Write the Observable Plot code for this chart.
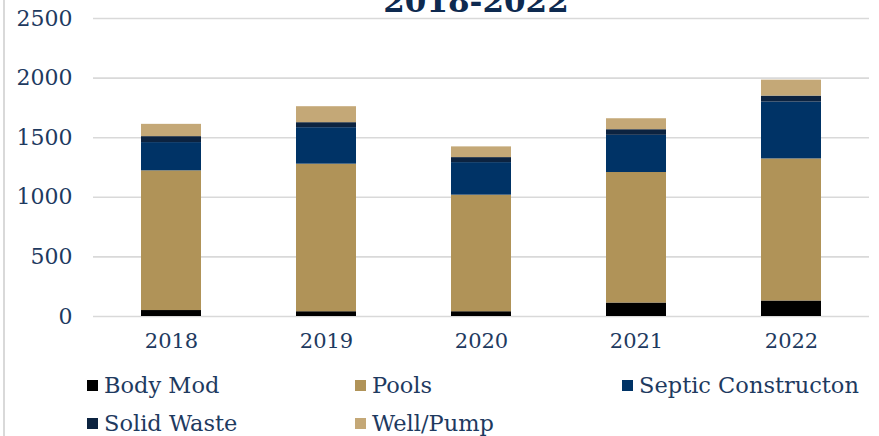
<!DOCTYPE html>
<html>
<head>
<meta charset="utf-8">
<script src="https://cdn.jsdelivr.net/npm/d3@7"></script>
<script src="https://cdn.jsdelivr.net/npm/@observablehq/plot@0.6"></script>
<style>
  html, body { margin: 0; padding: 0; background: #fff; }
  #wrap { position: relative; width: 879px; height: 436px; overflow: hidden; font-family: "DejaVu Serif", serif; }
  #frame { position: absolute; left: 3px; top: -2px; width: 900px; height: 460px; border-left: 2px solid #d9d9d9; }
  #title { position: absolute; left: 0; width: 952px; text-align: center; top: -14px; font-size: 31px; line-height: 31px; font-weight: bold; color: #0e2a50; white-space: nowrap; }
  #chart { position: absolute; left: 0; top: 0; }
  .leg { position: absolute; display: flex; align-items: center; font-size: 22.5px; color: #1e3a5f; white-space: nowrap; height: 30px; }
  .sw { width: 11px; height: 11px; margin-right: 6px; }
</style>
</head>
<body>
<div id="wrap">
  <div id="frame"></div>
  <div id="chart"></div>
  <div id="title">2018-2022</div>
  <div id="legend"></div>
</div>
<script>
const years = ["2018", "2019", "2020", "2021", "2022"];
const seriesNames = ["Body Mod", "Pools", "Septic Constructon", "Solid Waste", "Well/Pump"];
const bodyMod    = [50, 40, 40, 113, 130];
const pools      = [1172, 1238, 978, 1095, 1192];
const septic     = [237, 306, 273, 312, 477];
const solidWaste = [50, 42, 42, 47, 50];
const wellPump   = [103, 134, 90, 92, 134];
const yTicks = [0, 500, 1000, 1500, 2000, 2500];
const colors = ["#000000", "#b09358", "#003366", "#0c2340", "#c4a877"];

const seriesValues = [bodyMod, pools, septic, solidWaste, wellPump];
const rows = [];
seriesNames.forEach((s, i) => {
  years.forEach((y, j) => rows.push({year: y, series: s, value: seriesValues[i][j]}));
});

const chart = Plot.plot({
  width: 879,
  height: 360,
  marginLeft: 93,
  marginRight: 10,
  marginTop: 18,
  marginBottom: 44,
  style: {fontFamily: "DejaVu Serif, serif", fontSize: "21px", color: "#1e3a5f", background: "transparent"},
  x: {domain: years, paddingInner: 0.61, paddingOuter: 0.305, label: null, tickSize: 0, tickPadding: 17},
  y: {domain: [0, 2500], ticks: yTicks, label: null, tickSize: 0, tickPadding: 21, tickFormat: d => String(d)},
  color: {domain: seriesNames, range: colors},
  marks: [
    Plot.ruleY(yTicks, {stroke: "#d9d9d9", strokeWidth: 1.6}),
    Plot.barY(rows, {x: "year", y: "value", fill: "series", order: seriesNames}),
    Plot.axisY({ticks: yTicks, tickSize: 0, tickPadding: 21, fontSize: 22, label: null, tickFormat: d => String(d)}),
    Plot.axisX({tickSize: 0, tickPadding: 17, fontSize: 21, label: null})
  ]
});
document.getElementById("chart").appendChild(chart);

const legendPos = [
  {x: 87, y: 385}, {x: 355, y: 385}, {x: 622, y: 385},
  {x: 87, y: 423}, {x: 355, y: 423}
];
const legend = document.getElementById("legend");
seriesNames.forEach((s, i) => {
  const d = document.createElement("div");
  d.className = "leg";
  d.style.left = legendPos[i].x + "px";
  d.style.top = (legendPos[i].y - 15) + "px";
  const sw = document.createElement("span");
  sw.className = "sw";
  sw.style.background = colors[i];
  d.appendChild(sw);
  const t = document.createElement("span");
  t.textContent = s;
  d.appendChild(t);
  legend.appendChild(d);
});
</script>
</body>
</html>
